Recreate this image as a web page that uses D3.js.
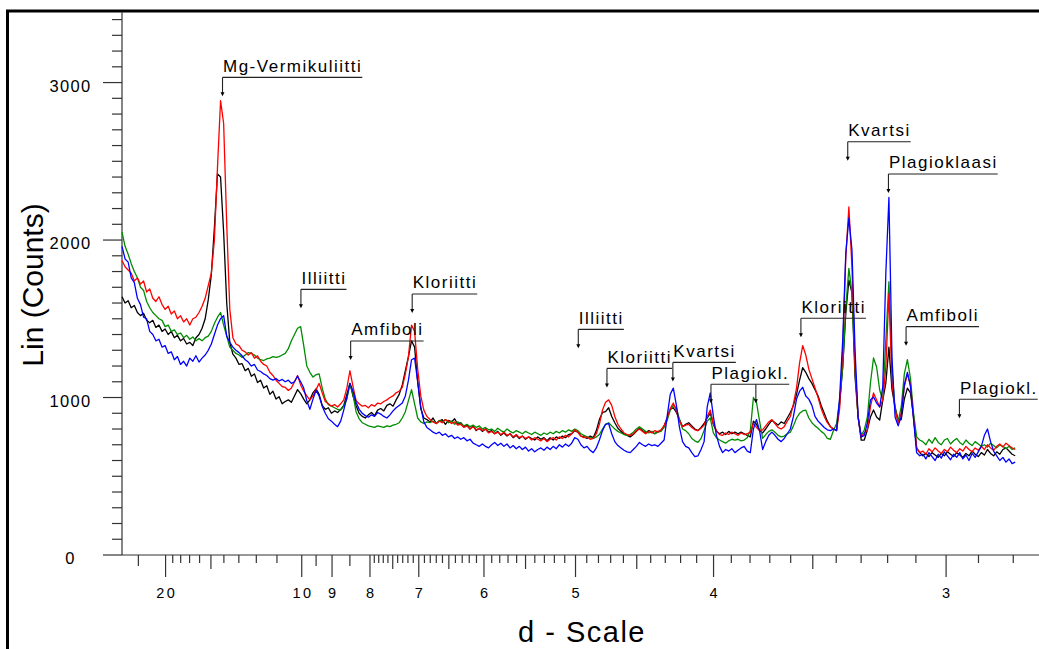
<!DOCTYPE html>
<html><head><meta charset="utf-8">
<script src="https://cdn.jsdelivr.net/npm/d3@7"></script>
<style>
html,body{margin:0;padding:0;background:#fff;}
svg{display:block;font-family:"Liberation Sans",Arial,Helvetica,sans-serif;}
</style></head><body>
<svg id="chart" width="1039" height="649"></svg>
<script>
// Cu K-alpha wavelength (Å) and scan grid (°2θ)
const wavelength = 1.5406;
const scanStart = 3.0, scanStep = 0.1;

// Counts per step, 3.0° … 32.0° 2θ (one row = 1°)
const countsBlack = [
1640,1600,1615,1570,1585,1540,1520,1535,1490,1475,
1490,1445,1460,1420,1435,1400,1420,1380,1395,1360,
1375,1340,1350,1330,1380,1400,1440,1500,1620,1780,
2080,2420,2400,2050,1600,1350,1275,1250,1210,1215,
1170,1185,1135,1150,1095,1110,1060,1075,1020,1040,
990,1005,960,975,985,970,1010,1050,1025,990,
960,985,1030,1055,1020,950,925,935,900,915,
905,925,950,1020,1090,1010,950,900,880,870,
890,905,885,920,930,915,950,960,945,985,
1020,1080,1170,1260,1360,1320,1100,930,870,860,
845,870,835,850,860,830,855,845,865,830,
840,815,825,800,820,790,805,785,800,780,
790,770,785,760,775,755,770,745,760,740,
755,735,750,740,730,750,735,745,725,745,
730,750,740,755,745,765,770,790,780,755,
750,740,755,745,790,860,905,910,935,880,
840,805,785,770,760,750,765,785,805,790,
775,790,780,770,785,790,820,870,925,935,
905,860,815,830,840,820,800,790,810,835,
870,900,830,785,770,780,765,785,770,780,
770,780,770,760,750,850,830,790,775,800,
830,855,840,825,845,835,870,905,950,1020,
1110,1190,1160,1120,1090,1050,1010,950,900,850,
815,800,795,960,1194,1537,1745,1664,1130,876,
730,730,794,876,921,876,857,984,1092,1320,
1050,940,857,860,990,1060,1030,880,680,650,
630,645,625,650,635,620,645,630,655,640,
625,650,635,620,645,630,660,640,625,650,
635,670,645,630,655,640,670,680,660,640,
630];

const countsRed = [
1870,1830,1810,1790,1740,1760,1720,1740,1670,1690,
1630,1610,1640,1590,1560,1580,1530,1550,1500,1520,
1480,1500,1460,1500,1510,1540,1580,1630,1710,1790,
2000,2460,2885,2740,2100,1560,1380,1340,1330,1300,
1290,1270,1285,1250,1265,1230,1210,1200,1160,1140,
1110,1090,1070,1065,1045,1060,1100,1140,1080,1040,
1010,985,1010,1050,1090,1030,975,960,945,955,
940,960,985,1060,1170,1070,980,960,945,950,
935,955,945,965,960,975,985,1000,1010,1030,
1040,1065,1150,1260,1460,1420,1180,1010,920,880,
860,845,835,850,840,860,850,835,845,825,
830,810,820,800,815,795,805,790,800,775,
785,770,780,765,780,760,770,750,765,745,
755,740,750,730,745,735,725,740,720,735,
745,730,750,740,760,750,770,795,780,755,
745,750,735,740,770,830,920,970,985,950,
880,830,800,775,765,760,770,790,800,785,
770,785,775,790,780,795,820,870,930,965,
915,850,815,825,830,810,795,790,805,825,
880,920,830,790,765,760,775,765,780,770,
760,775,765,770,780,835,810,790,795,820,
845,860,835,810,800,815,850,880,960,1060,
1220,1330,1270,1180,1120,1060,1000,930,880,840,
815,800,790,930,1302,1892,2210,1829,1194,876,
749,775,794,940,1029,984,940,984,1194,1660,
1100,921,838,900,1070,1150,1080,870,680,650,
660,640,675,655,680,660,645,670,655,685,
665,650,675,660,690,670,655,680,665,690,
670,700,680,665,690,705,685,710,695,680,
670];

const countsGreen = [
2050,1960,1910,1850,1800,1760,1700,1680,1610,1570,
1540,1520,1500,1490,1450,1460,1420,1430,1400,1410,
1380,1395,1370,1385,1360,1375,1360,1380,1390,1420,
1470,1510,1540,1460,1390,1320,1300,1280,1270,1255,
1270,1285,1280,1270,1250,1240,1235,1245,1250,1260,
1255,1260,1270,1280,1310,1360,1400,1440,1450,1330,
1200,1160,1130,1145,1150,1060,990,955,945,935,
925,920,945,990,1090,1020,910,865,840,830,
820,815,810,820,815,810,820,815,825,830,
840,870,910,980,1050,960,870,845,835,845,
840,850,835,855,845,860,840,850,830,845,
835,820,830,815,825,810,820,800,810,795,
800,785,805,790,780,800,785,775,790,780,
770,785,775,765,780,770,760,775,765,780,
770,785,775,790,780,795,785,800,790,770,
760,750,745,740,750,765,800,830,840,820,
800,785,775,765,760,765,780,800,815,800,
785,775,785,770,780,785,810,855,920,950,
935,860,800,790,770,740,725,715,740,790,
850,870,775,745,730,720,710,725,735,730,
735,725,730,745,790,1000,970,850,740,765,
785,795,780,760,750,755,770,780,820,870,
900,915,920,870,840,820,805,785,770,740,
735,790,835,980,1194,1575,1820,1664,1194,876,
760,794,876,1092,1251,1194,1048,984,1365,1735,
1180,930,850,940,1150,1240,1120,900,750,730,
720,700,735,710,745,715,700,730,740,705,
725,740,715,700,730,710,695,720,705,690,
700,685,710,695,680,700,690,675,690,670,
680];

const countsBlue = [
1960,1880,1860,1760,1730,1630,1590,1510,1500,1420,
1400,1360,1370,1320,1330,1280,1290,1240,1260,1210,
1230,1200,1250,1230,1265,1225,1250,1270,1300,1340,
1400,1460,1500,1520,1390,1350,1320,1300,1285,1265,
1240,1225,1200,1210,1175,1165,1150,1140,1120,1110,
1120,1105,1115,1100,1110,1090,1100,1135,1100,1060,
980,925,990,1045,1010,945,900,865,850,830,
815,850,920,1000,1090,1040,970,925,900,885,
875,890,880,905,895,880,870,890,915,935,
950,965,1010,1110,1240,1250,1100,940,845,810,
795,780,770,780,760,770,750,760,740,750,
735,745,725,735,710,700,690,705,690,680,
700,715,695,710,690,705,680,695,675,690,
670,685,660,675,655,670,680,665,685,670,
690,675,700,685,705,690,710,745,735,700,
680,690,665,650,680,730,790,830,835,770,
720,695,680,665,655,650,670,690,715,700,
690,705,695,700,690,710,730,880,1020,1060,
950,810,720,690,680,650,625,630,670,720,
940,1030,880,760,690,650,670,660,675,650,
665,680,690,660,650,800,860,790,670,720,
760,780,760,735,720,740,770,800,880,990,
1040,1065,1010,990,950,880,850,830,810,795,
790,800,790,1000,1365,1917,2140,1937,1302,876,
749,760,838,984,1003,965,940,1067,1791,2270,
1250,876,820,880,1080,1160,1070,860,650,630,
640,610,650,625,600,640,615,655,630,605,
640,620,650,610,635,600,645,620,655,690,
760,800,720,660,630,600,620,590,610,580,
590];

const seriesNames  = ["black", "green", "red", "blue"];
const seriesColors = ["#000000", "#008c00", "#ff0000", "#0000ff"];
const seriesCounts = [countsBlack, countsGreen, countsRed, countsBlue];

// Axis ticks
const yMajorTicks = [0, 1000, 2000, 3000];
const dMajor  = [20, 10, 9, 8, 7, 6, 5, 4, 3];
const dMedium = [15, 7.5, 6.5, 5.5, 4.5, 3.5];
const dMinor  = [25, 9.5, 8.5];
const dSmall  = [19,18,17,16,14,13,12,11,
  7.9,7.8,7.7,7.6,7.4,7.3,7.2,7.1,
  6.9,6.8,6.7,6.6,6.4,6.3,6.2,6.1,
  5.9,5.8,5.7,5.6,5.4,5.3,5.2,5.1,
  4.9,4.8,4.7,4.6,4.4,4.3,4.2,4.1,
  3.9,3.8,3.7,3.6,3.4,3.3,3.2,3.1,
  2.9,2.8];

// Peak annotations: label, d-spacing (Å), leader level (counts), optional second arrow d
const annoLabels = ["Mg-Vermikuliitti","Illiitti","Amfiboli","Kloriitti","Illiitti","Kloriitti","Kvartsi","Plagiokl.","Kloriitti","Kvartsi","Plagioklaasi","Amfiboli","Plagiokl."];
const annoD      = [14.1, 10.03, 8.48, 7.12, 4.975, 4.73, 4.25, 4.015, 3.553, 3.353, 3.197, 3.134, 2.958];
const annoLevel  = [3033, 1687, 1359, 1657, 1433, 1185, 1223, 1084, 1503, 2624, 2419, 1450, 989];
const annoSecondD = [null,null,null,null,null,null,null,3.77,null,null,null,null,null];

// ---------- drawing ----------
const svg = d3.select("#chart");
const toTwoTheta = d => 2 * Math.asin(wavelength / (2 * d)) * 180 / Math.PI;

const x = d3.scaleLinear().domain([3, 33]).range([122, 1046]);
const y = d3.scaleLinear().domain([0, 3450]).range([555, 11.7]);

const twoTheta = d3.range(countsBlack.length).map(i => +(scanStart + i * scanStep).toFixed(2));

// frame
svg.append("rect").attr("x", 7.5).attr("y", 11).attr("width", 1100).attr("height", 700)
  .attr("fill", "none").attr("stroke", "#000").attr("stroke-width", 3);

const axisColor = "#333";

// Y axis
const gy = svg.append("g");
gy.append("line").attr("x1", 122).attr("x2", 122).attr("y1", y(0)).attr("y2", y(3450))
  .attr("stroke", axisColor).attr("stroke-width", 1.2);
gy.selectAll("line.minor").data(d3.range(100, 3401, 100).filter(v => !yMajorTicks.includes(v)))
  .join("line").attr("class", "minor")
  .attr("x1", 112).attr("x2", 122).attr("y1", d => y(d)).attr("y2", d => y(d))
  .attr("stroke", axisColor).attr("stroke-width", 1.2);
gy.selectAll("line.major").data(yMajorTicks).join("line").attr("class", "major")
  .attr("x1", 103).attr("x2", 122).attr("y1", d => y(d)).attr("y2", d => y(d))
  .attr("stroke", axisColor).attr("stroke-width", 1.2);
gy.selectAll("text").data(yMajorTicks).join("text")
  .attr("x", 70.5).attr("y", d => y(d) + 9.3)
  .attr("text-anchor", "middle").attr("font-size", 16.5).attr("letter-spacing", 1.3)
  .attr("fill", "#000").text(d => d);

// X axis (d-scale)
const gx = svg.append("g");
gx.append("line").attr("x1", 122).attr("x2", 1046).attr("y1", 555).attr("y2", 555)
  .attr("stroke", axisColor).attr("stroke-width", 1.2);
const tickGroups = [[dMajor, 22], [dMedium, 14], [dMinor, 11], [dSmall, 8]];
tickGroups.forEach(([vals, len]) => {
  gx.append("g").selectAll("line").data(vals).join("line")
    .attr("x1", d => x(toTwoTheta(d))).attr("x2", d => x(toTwoTheta(d)))
    .attr("y1", 555).attr("y2", 555 + len)
    .attr("stroke", axisColor).attr("stroke-width", 1.2);
});
gx.append("g").selectAll("text").data(dMajor).join("text")
  .attr("x", d => x(toTwoTheta(d)) + 1.2).attr("y", 598)
  .attr("text-anchor", "middle").attr("font-size", 14.5).attr("letter-spacing", 2.4)
  .attr("fill", "#000").text(d => d);

// axis titles
svg.append("text").attr("transform", "translate(43,285) rotate(-90)")
  .attr("text-anchor", "middle").attr("font-size", 30).attr("fill", "#000").text("Lin (Counts)");
svg.append("text").attr("x", 582).attr("y", 642)
  .attr("text-anchor", "middle").attr("font-size", 29).attr("letter-spacing", 1.5)
  .attr("fill", "#000").text("d - Scale");

// series
const line = d3.line().x(d => x(d[0])).y(d => y(d[1]));
seriesCounts.forEach((counts, i) => {
  svg.append("path")
    .datum(counts.map((c, k) => [twoTheta[k], c]))
    .attr("fill", "none").attr("stroke", seriesColors[i]).attr("stroke-width", 1.3)
    .attr("stroke-linejoin", "round").attr("d", line);
});

// annotations
const ga = svg.append("g");
annoLabels.forEach((lab, i) => {
  const ax = x(toTwoTheta(annoD[i]));
  const ly = y(annoLevel[i]);
  const t = ga.append("text").attr("x", ax + 0.5).attr("y", ly - 5.6)
    .attr("font-size", 17).attr("letter-spacing", 1.5).attr("fill", "#000").text(lab);
  const w = t.node().getComputedTextLength();
  ga.append("line").attr("x1", ax).attr("x2", ax + w + 0.5).attr("y1", ly).attr("y2", ly)
    .attr("stroke", "#222").attr("stroke-width", 1.1);
  const arrows = [ax];
  if (annoSecondD[i] != null) arrows.push(x(toTwoTheta(annoSecondD[i])));
  arrows.forEach(px => {
    ga.append("line").attr("x1", px).attr("x2", px).attr("y1", ly).attr("y2", ly + 16)
      .attr("stroke", "#222").attr("stroke-width", 1.1);
    ga.append("path").attr("d", `M${px},${ly + 19}L${px - 2},${ly + 15}L${px + 2},${ly + 15}Z`)
      .attr("fill", "#000");
  });
});
</script>
</body></html>
